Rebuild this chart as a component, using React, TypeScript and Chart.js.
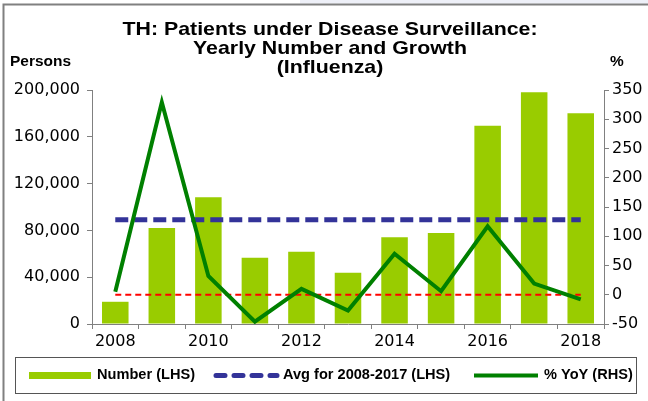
import React, { useEffect, useRef } from "react";
import { Chart, registerables } from "chart.js";

Chart.register(...registerables);

const YEARS = ["2008", "2009", "2010", "2011", "2012", "2013", "2014", "2015", "2016", "2017", "2018"];
const NUMBER_LHS = [19000, 82000, 108300, 56700, 61800, 43900, 74100, 77800, 169500, 198000, 180100];
const YOY_RHS = [5, 329, 32, -46, 10, -27, 70, 6, 117, 19, -8];
const AVG_2008_2017 = 89000;
const ZERO_LINE = 0;
const LEFT_TICKS = { min: 0, max: 200000, step: 40000 };
const RIGHT_TICKS = { min: -50, max: 350, step: 50 };
const TITLE_LINES = ["TH: Patients under Disease Surveillance:", "Yearly Number and Growth", "(Influenza)"];
const LEGEND_LABELS = ["Number (LHS)", "Avg for 2008-2017 (LHS)", "% YoY (RHS)"];

const TICK_FONT = { family: "'DejaVu Sans', sans-serif", size: 16 };

function stretchText(ctx: CanvasRenderingContext2D, text: string, x: number, y: number, sx: number) {
  ctx.save();
  ctx.translate(x, y);
  ctx.scale(sx, 1);
  ctx.fillText(text, 0, 0);
  ctx.restore();
}

export default function App() {
  const ref = useRef<HTMLCanvasElement | null>(null);
  useEffect(() => {
    if (!ref.current) return;
    const decor = {
      id: "decor",
      afterDraw(chart: any) {
        const ctx = chart.ctx as CanvasRenderingContext2D;
        const ca = chart.chartArea;
        ctx.save();
        // light strip at top
        ctx.fillStyle = "#eef0f8";
        ctx.fillRect(300, 0, 348, 3.5);
        // frame
        ctx.strokeStyle = "#808080";
        ctx.lineWidth = 2;
        ctx.beginPath();
        ctx.moveTo(3.5, 401);
        ctx.lineTo(3.5, 4.5);
        ctx.lineTo(648, 4.5);
        ctx.stroke();
        // title
        ctx.fillStyle = "#000";
        ctx.textAlign = "center";
        ctx.textBaseline = "middle";
        ctx.font = "bold 19px 'Liberation Sans', Arial, sans-serif";
        const tsx = 415 / ctx.measureText(TITLE_LINES[0]).width;
        TITLE_LINES.forEach((t, i) => stretchText(ctx, t, 330, 30 + i * 18.7, tsx));
        // axis titles
        ctx.font = "bold 15px 'Liberation Sans', Arial, sans-serif";
        ctx.textAlign = "left";
        stretchText(ctx, "Persons", 10, ca.top - 28, 1.03);
        stretchText(ctx, "%", 610, ca.top - 28, 1.03);
        // legend
        ctx.strokeStyle = "#555";
        ctx.lineWidth = 1;
        ctx.strokeRect(15.5, 357.5, 621, 36);
        const ly = 375.5;
        ctx.fillStyle = "#99CC00";
        ctx.fillRect(29, ly - 3.5, 62, 7);
        ctx.strokeStyle = "#333399";
        ctx.lineWidth = 5;
        ctx.lineCap = "round";
        ctx.setLineDash([9, 9]);
        ctx.beginPath();
        ctx.moveTo(216, ly);
        ctx.lineTo(277, ly);
        ctx.stroke();
        ctx.setLineDash([]);
        ctx.lineCap = "butt";
        ctx.strokeStyle = "#008000";
        ctx.lineWidth = 4;
        ctx.beginPath();
        ctx.moveTo(474, ly);
        ctx.lineTo(538, ly);
        ctx.stroke();
        ctx.fillStyle = "#000";
        ctx.font = "bold 14px 'Liberation Sans', Arial, sans-serif";
        ctx.textBaseline = "middle";
        const lsx = 98 / ctx.measureText(LEGEND_LABELS[0]).width;
        stretchText(ctx, LEGEND_LABELS[0], 97, ly, lsx);
        stretchText(ctx, LEGEND_LABELS[1], 283, ly, lsx);
        stretchText(ctx, LEGEND_LABELS[2], 544, ly, lsx);
        ctx.restore();
      },
    };
    const chart = new Chart(ref.current, {
      type: "bar",
      data: {
        labels: YEARS,
        datasets: [
          {
            type: "line",
            label: LEGEND_LABELS[2],
            data: YOY_RHS,
            yAxisID: "y1",
            borderColor: "#008000",
            borderWidth: 4,
            pointRadius: 0,
            tension: 0,
            order: 1,
          },
          {
            type: "line",
            label: "zero",
            data: YEARS.map(() => ZERO_LINE),
            yAxisID: "y1",
            borderColor: "#FF0000",
            borderWidth: 2,
            borderDash: [6, 4],
            pointRadius: 0,
            order: 2,
          },
          {
            type: "line",
            label: LEGEND_LABELS[1],
            data: YEARS.map(() => AVG_2008_2017),
            yAxisID: "y",
            borderColor: "#333399",
            borderWidth: 5,
            borderDash: [13, 6],
            pointRadius: 0,
            order: 3,
          },
          {
            type: "bar",
            label: LEGEND_LABELS[0],
            data: NUMBER_LHS,
            yAxisID: "y",
            backgroundColor: "#99CC00",
            barPercentage: 0.57,
            categoryPercentage: 1,
            order: 4,
          },
        ],
      },
      options: {
        animation: false,
        responsive: false,
        maintainAspectRatio: false,
        layout: { padding: { top: 90, left: 0, right: 0, bottom: 0 } },
        plugins: { legend: { display: false }, title: { display: false }, tooltip: { enabled: false } },
        scales: {
          x: {
            type: "category",
            offset: true,
            grid: { offset: true, drawOnChartArea: false, tickLength: 5, color: "#808080", lineWidth: 1 },
            border: { color: "#808080", width: 1 },
            ticks: {
              autoSkip: false,
              maxRotation: 0,
              minRotation: 0,
              padding: 3,
              color: "#000",
              font: TICK_FONT,
              callback: (v: any, i: number) => (i % 2 === 0 ? YEARS[i] : ""),
            },
            afterFit: (s: any) => {
              s.height = 77;
            },
          },
          y: {
            position: "left",
            min: LEFT_TICKS.min,
            max: LEFT_TICKS.max,
            grid: { drawOnChartArea: false, tickLength: 5, color: "#808080" },
            border: { color: "#808080", width: 1 },
            ticks: {
              stepSize: LEFT_TICKS.step,
              padding: 7,
              color: "#000",
              font: TICK_FONT,
              callback: (v: any) => Number(v).toLocaleString("en-US"),
            },
            afterFit: (s: any) => {
              s.width = 92;
            },
          },
          y1: {
            position: "right",
            min: RIGHT_TICKS.min,
            max: RIGHT_TICKS.max,
            grid: { drawOnChartArea: false, tickLength: 5, color: "#808080" },
            border: { color: "#808080", width: 1 },
            ticks: {
              stepSize: RIGHT_TICKS.step,
              padding: 3,
              color: "#000",
              font: TICK_FONT,
            },
            afterFit: (s: any) => {
              s.width = 44;
            },
          },
        },
      },
      plugins: [decor],
    });
    return () => chart.destroy();
  }, []);
  return (
    <div style={{ position: "fixed", left: 0, top: 0, width: 648, height: 401, background: "#fff" }}>
      <canvas ref={ref} width={648} height={401} style={{ width: 648, height: 401, display: "block" }} />
    </div>
  );
}
